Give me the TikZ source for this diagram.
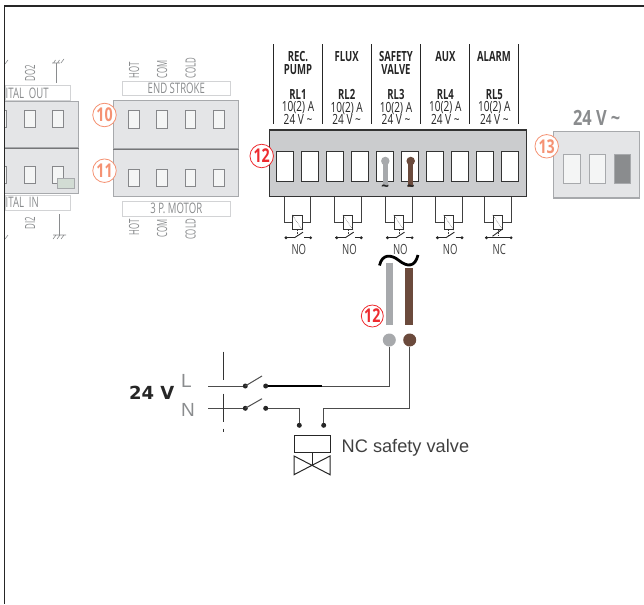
\documentclass[tikz,border=0pt]{standalone}
\usepackage{fontspec}
\setmainfont{Open Sans}
\newfontfamily\armfont{Liberation Sans}
\newfontfamily\widefont{DejaVu Sans}
\usepackage{xcolor}
\usetikzlibrary{positioning}

\definecolor{boxgray}{HTML}{E4E5E7}
\definecolor{mainbox}{HTML}{CBCCCE}
\definecolor{edgegray}{HTML}{A7A9AC}
\definecolor{txtgray}{HTML}{8A8C8E}
\definecolor{wiregray}{HTML}{A7A9AC}
\definecolor{wirebrown}{HTML}{6B4A3C}
\definecolor{badgeorange}{HTML}{F59273}
\definecolor{badgered}{HTML}{EE2A2E}
\newcommand{\cnd}[2][.68]{\scalebox{#1}[1]{#2}}

\tikzset{
  greybox/.style={draw=edgegray, fill=boxgray, line width=1pt, inner sep=0pt},
  namebox/.style={draw=boxgray!70!edgegray, fill=white, line width=.8pt, inner sep=0pt, text=txtgray, font=\fontsize{14.5}{14.5}\selectfont},
  term/.style={draw=edgegray!80!black, fill=boxgray!40!white, line width=1pt, inner sep=0pt, minimum width=10.5pt, minimum height=17.5pt},
  relayterm/.style={draw=black!80, fill=white, line width=1pt, inner sep=0pt, minimum width=17pt, minimum height=29pt},
  graytxt/.style={text=txtgray, inner sep=0pt, font=\fontsize{14}{14}\selectfont},
  blktxt/.style={text=black!85, inner sep=0pt, align=center, font=\fontsize{14}{12.7}\selectfont},
  badge/.style={circle, draw=#1, text=#1, fill=white, line width=.8pt, inner sep=0pt, minimum size=23.5pt, font=\bfseries\fontsize{19}{19}\selectfont},
  dot/.style={circle, fill=black!85, inner sep=0pt, minimum size=5pt},
  tinydot/.style={circle, fill=black!85, inner sep=0pt, minimum size=3.2pt},
  coil/.style={draw=black!80, fill=white, line width=.7pt, inner sep=0pt, minimum width=9.4pt, minimum height=14.4pt},
  wire/.style={draw=black!70, line width=1pt}
}

\begin{document}
\begin{tikzpicture}[x=1pt, y=-1pt]
  \useasboundingbox (0,0) rectangle (644,604);

  % cut off boards on the left
  \node[greybox, minimum width=73.5pt, minimum height=46pt] (outbox) at (41.3,125) {};
  \node[greybox, minimum width=73.5pt, minimum height=45pt] (inbox) at (41.3,170.5) {};
  \node[namebox, minimum width=65.5pt, minimum height=15pt] (outname) at (37.7,93.2) {};
  \node[namebox, minimum width=65.5pt, minimum height=15pt] (inname) at (37.7,202.7) {};
  \node[graytxt, font=\fontsize{14.5}{14.5}\selectfont, anchor=west] (outtxt) at (5.5,93.2) {\cnd[.66]{ITAL\ \ OUT}};
  \node[graytxt, font=\fontsize{14.5}{14.5}\selectfont, anchor=west] (intxt) at (5.5,202.7) {\cnd[.66]{ITAL\ \ IN}};
  \foreach \x in {30,58} {
    \node[term] at (\x,119) {};
    \node[term] at (\x,175) {};
  }
  \node[term, minimum width=2pt, anchor=east] (outstub) at (6.7,119) {};
  \node[term, minimum width=2pt, anchor=east] (instub) at (6.7,175) {};
  \node[draw=edgegray, fill=green!4!boxgray!90!gray, minimum width=17.5pt, minimum height=9.5pt, inner sep=0pt, line width=.6pt] (sensor) at (66,183.5) {};
  \node[graytxt, rotate=90, anchor=center] (dotwo) at (30,73.5) {\cnd[.56]{DO2}};
  \node[graytxt, rotate=90, anchor=center] (ditwo) at (30,223.5) {\cnd[.56]{DI2}};

  % earth marks
  \coordinate (earthtop) at (56.5,63);
  \coordinate (earthbot) at (59.5,235);
  \draw[txtgray, line width=.7pt] (earthtop) -- ++(0,20);
  \draw[txtgray, line width=.7pt] (earthbot) -- ++(0,-21);
  \draw[txtgray, line width=.6pt] (52,63) -- (60,63) (53.5,63) -- ++(2,-3) (57.5,63) -- ++(2,-3) (61,63) -- ++(3,-4);
  \draw[txtgray, line width=.6pt] (53,235) -- (66,235) (56,235) -- ++(-3,4) (60,235) -- ++(-3,4) (64,235) -- ++(-3,4);
  \draw[txtgray, line width=.6pt] (5,64) -- (8,60) (5,239) -- (8,235);

  % end stroke and motor boards
  \node[namebox, minimum width=108.5pt, minimum height=14pt] (endname) at (176.3,88.3) {\cnd[.66]{END STROKE}};
  \node[greybox, minimum width=125pt, minimum height=48pt] (endbox) at (176.2,124.7) {};
  \node[greybox, minimum width=125pt, minimum height=48pt] (motorbox) at (176.2,172.7) {};
  \node[namebox, minimum width=108.5pt, minimum height=14.3pt] (motorname) at (176.3,208.8) {\cnd[.66]{3 P. MOTOR}};
  \draw[edgegray!70!black, line width=1.2pt] (endbox.south west) -- (endbox.south east);
  \draw[edgegray!70!black, line width=1.2pt] (outbox.south west) -- (outbox.south east);
  \foreach \x in {133.8,162.2,190.5,218.8} {
    \node[term] at (\x,119.7) {};
    \node[term] at (\x,178) {};
  }
  \foreach \x/\t in {134/HOT,162/COM,190.7/COLD} {
    \node[graytxt, rotate=90, anchor=west] at (\x,78.5) {\cnd[.56]{\t}};
    \node[graytxt, rotate=90, anchor=east] at (\x,219) {\cnd[.56]{\t}};
  }
  \node[badge=badgeorange] (badgeten) at (104.5,115) {\cnd[.75]{10}};
  \node[badge=badgeorange] (badgeeleven) at (104.5,170.7) {\cnd[.75]{11}};

  % relay board
  \foreach \x in {273.7,322.7,371.7,420.5,469.3,518.3} {
    \draw[black!85, line width=.8pt] (\x,44.3) -- (\x,124.3);
  }
  \node[blktxt, anchor=north] (pumplbl) at (298,51) {\bfseries\cnd{REC.}\\\bfseries\cnd{PUMP}};
  \node[blktxt, anchor=north] (fluxlbl) at (346.7,51) {\bfseries\cnd{FLUX}};
  \node[blktxt, anchor=north] (valvelbl) at (396,51) {\bfseries\cnd{SAFETY}\\\bfseries\cnd{VALVE}};
  \node[blktxt, anchor=north] (auxlbl) at (445.3,51) {\bfseries\cnd{AUX}};
  \node[blktxt, anchor=north] (alarmlbl) at (494,51) {\bfseries\cnd{ALARM}};
  \foreach \i/\x in {1/298,2/346.7,3/396,4/445.3,5/494.3} {
    \node[blktxt] (rating\i) at (\x,107) {\bfseries\cnd{RL\i}\\\cnd[.72]{10(2) A}\\\cnd[.72]{24 V \char`~}};
  }
  \node[draw=black!80, fill=mainbox, line width=1.2pt, inner sep=0pt, minimum width=256.6pt, minimum height=66.3pt] (relaybox) at (398,163.2) {};
  \foreach \i/\x in {1/284.7,2/310.3,3/335.4,4/360.3,5/385.3,6/410.3,7/435.3,8/460.2,9/485.2,10/510} {
    \node[relayterm] (rt\i) at (\x,166.5) {};
  }
  \draw[wiregray, line width=5pt] (385.3,161) -- (385.3,186.5);
  \draw[wirebrown, line width=5pt] (410.7,161) -- (410.7,186.5);
  \node[circle, fill=wiregray, inner sep=0pt, minimum size=8.5pt] (plugL) at (385.3,161) {};
  \node[circle, fill=wirebrown, inner sep=0pt, minimum size=8.5pt] (plugN) at (410.7,161) {};
  \node[blktxt, font=\bfseries\fontsize{15}{15}\selectfont] (tildeL) at (385.3,188.5) {\scalebox{.9}[1]{\char`~}};
  \node[blktxt, font=\bfseries\fontsize{15}{15}\selectfont] (tildeN) at (410.7,188.5) {\scalebox{.9}[1]{\char`~}};
  \node[badge=badgered] (badgerelay) at (261.7,156) {\cnd[.75]{12}};

  % coils and contacts
  \foreach \i/\x/\c in {1/297.3/NO,2/348/NO,3/398.8/NO,4/448.7/NO,5/497.8/NC} {
    \node[coil] (coil\i) at (\x,222.5) {};
    \draw[black!75, line width=.9pt] ([xshift=-8.3pt]coil\i.west |- relaybox.south) |- (coil\i.west);
    \draw[black!75, line width=.9pt] ([xshift=8.3pt]coil\i.east |- relaybox.south) |- (coil\i.east);
    \draw[black!75, line width=.5pt, densely dotted] (coil\i.north west) -- (coil\i.south east);
    \draw[black!75, line width=.5pt, densely dotted] (coil\i.south) -- ++(0,5);
    \node[tinydot, left=9.5pt of coil\i.south, yshift=-7.7pt] (cl\i) {};
    \node[tinydot, right=11.5pt of coil\i.south, yshift=-7.7pt] (cr\i) {};
    \draw[black!85, line width=.9pt] ([xshift=-1.5pt]cl\i.center) -- ([xshift=8.5pt]cl\i.center);
    \draw[black!85, line width=1.4pt] ([xshift=-6.5pt]cr\i.center) -- (cr\i.center);
    \node[graytxt, text=black!75, below=4.5pt of coil\i.south, yshift=-10pt, xshift=1.5pt] (state\i) {\cnd[.68]{\c}};
  }
  \foreach \i in {1,2,3,4} {
    \draw[black!85, line width=.9pt] ([xshift=8.5pt]cl\i.center) -- ++(8.5,-5.6);
  }
  \draw[black!85, line width=.9pt] ([xshift=-6.5pt]cr5.center) -- (cl5.center);
  \draw[black!85, line width=.9pt] ([xshift=6pt,yshift=1.5pt]cl5.center) -- ++(9,-6.5);

  % 24 V ~ supply board
  \node[graytxt, font=\bfseries\fontsize{21}{21}\selectfont] (supplylbl) at (596.7,117.7) {\cnd[.78]{24 V \char`~}};
  \node[greybox, line width=1.2pt, minimum width=85.6pt, minimum height=66.7pt] (supplybox) at (596.5,164.7) {};
  \node[term, draw=edgegray, minimum width=16.6pt, minimum height=28.7pt] (st1) at (572,169.3) {};
  \node[term, draw=edgegray, minimum width=16.6pt, minimum height=28.7pt] (st2) at (597.3,169.3) {};
  \node[term, draw=edgegray, fill=txtgray, minimum width=16.3pt, minimum height=28.7pt] (st3) at (622.2,169.3) {};
  \node[badge=badgeorange] (badgesupply) at (546.7,146.3) {\cnd[.75]{13}};

  % valve wiring
  \draw[black, line width=2.8pt] (379.5,265.5) .. controls (382,254) and (391,254) .. (399,260.5) .. controls (407,267) and (415,267.5) .. (418,255);
  \draw[wiregray, line width=6.7pt] (389.3,262.7) -- (389.3,325);
  \draw[wirebrown, line width=7.2pt] (409,268.3) -- (409,325);
  \node[badge=badgered, minimum size=22pt] (badgewire) at (372.3,316) {\cnd[.75]{12}};
  \node[circle, fill=wiregray, inner sep=0pt, minimum size=13pt] (wireL) at (389.3,340) {};
  \node[circle, fill=wirebrown, inner sep=0pt, minimum size=13pt] (wireN) at (409.7,340) {};

  \node[dot] (swLa) at (245.3,386) {};
  \node[dot] (swLb) at (265.7,386) {};
  \node[dot] (swNa) at (245.3,408.3) {};
  \node[dot] (swNb) at (265.7,408.3) {};
  \node[dot] (valveL) at (299.3,425.3) {};
  \node[dot] (valveN) at (323.7,425.3) {};
  \coordinate (feedL) at (208,386);
  \coordinate (feedN) at (208,408.3);
  \coordinate (joinL) at (321.7,386);
  \draw[wire] (feedL) -- (swLa);
  \draw[wire] (feedN) -- (swNa);
  \draw[wire] (swLa.center) -- ++(16.7,-10);
  \draw[wire] (swNa.center) -- ++(16.7,-9.6);
  \draw[black, line width=1.3pt] (swLb) -- (joinL);
  \draw[wire] (wireL) |- (joinL);
  \draw[wire] (wireN) |- (valveN |- swNb) -- (valveN);
  \draw[wire] (swNb) -| (valveL);
  \draw[black!80, line width=.7pt, dash pattern=on 28pt off 14pt on 28pt off 7pt on 3pt off 10pt] (223.3,351.7) -- (223.3,431.7);

  \node[inner sep=0pt, text=black!85, font=\widefont\bfseries\fontsize{18}{18}\selectfont, anchor=east] (volts) at (174.5,393) {24 V};
  \node[inner sep=0pt, text=txtgray, font=\armfont\fontsize{19}{19}\selectfont, anchor=west] (lineL) at (181,381) {L};
  \node[inner sep=0pt, text=txtgray, font=\armfont\fontsize{19}{19}\selectfont, anchor=west] (lineN) at (181,410) {N};

  % valve symbol
  \node[draw=black!85, line width=1pt, inner sep=0pt, minimum width=36pt, minimum height=17pt] (solenoid) at (312,443.8) {};
  \coordinate (valvemid) at (312,465.3);
  \draw[black!85, line width=1pt] (solenoid.south) -- (valvemid);
  \draw[black!85, line width=1pt] (valvemid) -- (294,456) -- (294,474.7) -- cycle;
  \draw[black!85, line width=1pt] (valvemid) -- (330,456) -- (330,474.7) -- cycle;
  \node[inner sep=0pt, text=black!75, font=\armfont\fontsize{18.2}{18.2}\selectfont, anchor=west] (valvename) at (341.5,447.5) {NC safety valve};

  % frame
  \draw[black!85, line width=1.5pt] (644,6) -- (4.6,6) -- (4.6,604);
\end{tikzpicture}
\end{document}
